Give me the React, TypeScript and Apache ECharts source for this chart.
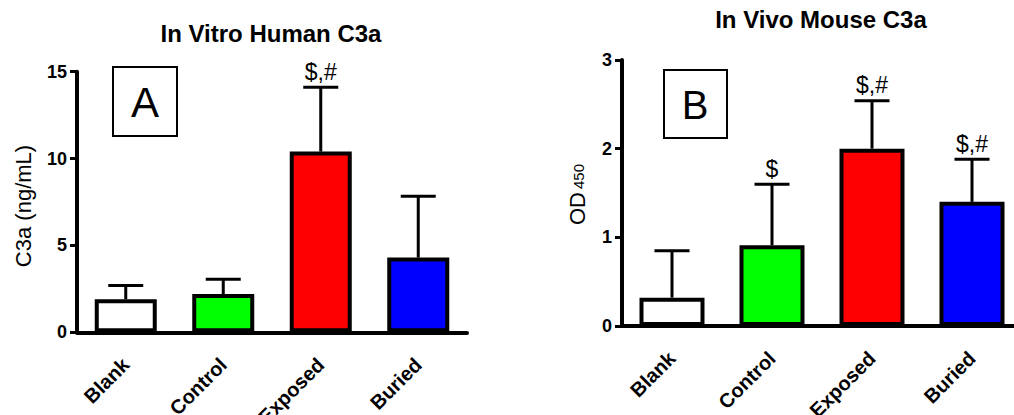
import React, { useEffect, useRef } from "react";
import * as echarts from "echarts";

const categories = ["Blank", "Control", "Exposed", "Buried"];
const barColors = ["#ffffff", "#00ff00", "#ff0000", "#0000ff"];

const vitroMean = [1.9, 2.2, 10.4, 4.3];
const vitroUpper = [2.7, 3.05, 14.1, 7.83];
const vitroMarks = ["", "", "$,#", ""];

const vivoMean = [0.32, 0.91, 2.0, 1.4];
const vivoUpper = [0.85, 1.6, 2.54, 1.88];
const vivoMarks = ["", "$", "$,#", "$,#"];

const FONT = "Liberation Sans, Arial, sans-serif";

function errorRender(marks: string[]) {
  return (params: any, api: any) => {
    const i = api.value(0);
    const m = api.value(1);
    const u = api.value(2);
    const p0 = api.coord([i, m]);
    const p1 = api.coord([i, u]);
    const half = 17.5;
    const lineStyle = { stroke: "#000", lineWidth: 3 };
    const children: any[] = [
      { type: "line", shape: { x1: p0[0], y1: p0[1], x2: p1[0], y2: p1[1] }, style: lineStyle },
      { type: "line", shape: { x1: p1[0] - half, y1: p1[1], x2: p1[0] + half, y2: p1[1] }, style: lineStyle },
    ];
    const t = marks[params.dataIndex];
    if (t) {
      children.push({
        type: "text",
        x: p1[0],
        y: p1[1] - 4,
        style: {
          text: t,
          font: `23px ${FONT}`,
          fill: "#000",
          textAlign: "center",
          textVerticalAlign: "bottom",
        },
      });
    }
    return { type: "group", children };
  };
}

function xAxisCfg(gridIndex: number) {
  return {
    type: "category",
    gridIndex,
    data: categories,
    axisLine: { lineStyle: { color: "#000", width: 4 } },
    axisTick: { alignWithLabel: true, length: 8, lineStyle: { color: "#000", width: 3.5 } },
    axisLabel: {
      rotate: 45,
      margin: 29,
      color: "#000",
      fontFamily: FONT,
      fontWeight: "bold",
      fontSize: 20,
    },
    splitLine: { show: false },
  };
}

function yAxisCfg(gridIndex: number, max: number, interval: number) {
  return {
    type: "value",
    gridIndex,
    min: 0,
    max,
    interval,
    axisLine: { show: true, lineStyle: { color: "#000", width: 4 } },
    axisTick: { show: true, length: 7, lineStyle: { color: "#000", width: 3 } },
    axisLabel: {
      margin: 10,
      color: "#000",
      fontFamily: FONT,
      fontWeight: "bold",
      fontSize: 18,
    },
    splitLine: { show: false },
  };
}

export default function App() {
  const ref = useRef<HTMLDivElement>(null);
  useEffect(() => {
    if (!ref.current) return;
    const chart = echarts.init(ref.current, undefined, { renderer: "svg" });
    const barData = (vals: number[]) =>
      vals.map((v, i) => ({ value: v, itemStyle: { color: barColors[i] } }));
    const errData = (m: number[], u: number[]) => m.map((v, i) => [i, v, u[i]]);

    chart.setOption({
      animation: false,
      backgroundColor: "#ffffff",
      grid: [
        { left: 77, top: 71.7, width: 390, height: 260.6, containLabel: false, outerBoundsMode: "none" },
        { left: 622, top: 60, width: 400, height: 266, containLabel: false, outerBoundsMode: "none" },
      ],
      xAxis: [xAxisCfg(0), xAxisCfg(1)],
      yAxis: [yAxisCfg(0, 15, 5), yAxisCfg(1, 3, 1)],
      series: [
        {
          type: "custom",
          xAxisIndex: 0,
          yAxisIndex: 0,
          z: 1,
          clip: false,
          renderItem: errorRender(vitroMarks),
          data: errData(vitroMean, vitroUpper),
          encode: { x: 0, y: [1, 2] },
        },
        {
          type: "bar",
          xAxisIndex: 0,
          yAxisIndex: 0,
          z: 3,
          barWidth: 62,
          itemStyle: { borderColor: "#000", borderWidth: 4 },
          data: barData(vitroMean),
        },
        {
          type: "custom",
          xAxisIndex: 1,
          yAxisIndex: 1,
          z: 1,
          clip: false,
          renderItem: errorRender(vivoMarks),
          data: errData(vivoMean, vivoUpper),
          encode: { x: 0, y: [1, 2] },
        },
        {
          type: "bar",
          xAxisIndex: 1,
          yAxisIndex: 1,
          z: 3,
          barWidth: 65,
          itemStyle: { borderColor: "#000", borderWidth: 4 },
          data: barData(vivoMean),
        },
      ],
      graphic: [
        {
          type: "text",
          x: 271,
          y: 33.5,
          style: { text: "In Vitro Human C3a", font: `bold 24px ${FONT}`, fill: "#000", textAlign: "center", textVerticalAlign: "middle" },
        },
        {
          type: "text",
          x: 821,
          y: 19,
          style: { text: "In Vivo Mouse C3a", font: `bold 24px ${FONT}`, fill: "#000", textAlign: "center", textVerticalAlign: "middle" },
        },
        {
          type: "text",
          x: 23,
          y: 206,
          rotation: Math.PI / 2,
          style: { text: "C3a (ng/mL)", font: `22px ${FONT}`, fill: "#000", textAlign: "center", textVerticalAlign: "middle" },
        },
        {
          type: "text",
          x: 577,
          y: 208.5,
          rotation: Math.PI / 2,
          style: { text: "OD", font: `22px ${FONT}`, fill: "#000", textAlign: "center", textVerticalAlign: "middle" },
        },
        {
          type: "text",
          x: 578,
          y: 176.5,
          rotation: Math.PI / 2,
          style: { text: "450", font: `15px ${FONT}`, fill: "#000", textAlign: "center", textVerticalAlign: "middle" },
        },
        {
          type: "rect",
          shape: { x: 113, y: 67, width: 64, height: 69 },
          style: { fill: "#fff", stroke: "#000", lineWidth: 2 },
        },
        {
          type: "text",
          x: 145,
          y: 102,
          style: { text: "A", font: `42px ${FONT}`, fill: "#000", textAlign: "center", textVerticalAlign: "middle" },
        },
        {
          type: "rect",
          shape: { x: 664, y: 70, width: 63, height: 68 },
          style: { fill: "#fff", stroke: "#000", lineWidth: 2 },
        },
        {
          type: "text",
          x: 695,
          y: 105,
          style: { text: "B", font: `40px ${FONT}`, fill: "#000", textAlign: "center", textVerticalAlign: "middle" },
        },
      ],
    });
    return () => chart.dispose();
  }, []);
  return (
    <div
      ref={ref}
      style={{ position: "absolute", left: 0, top: 0, width: 1014, height: 415 }}
    />
  );
}
